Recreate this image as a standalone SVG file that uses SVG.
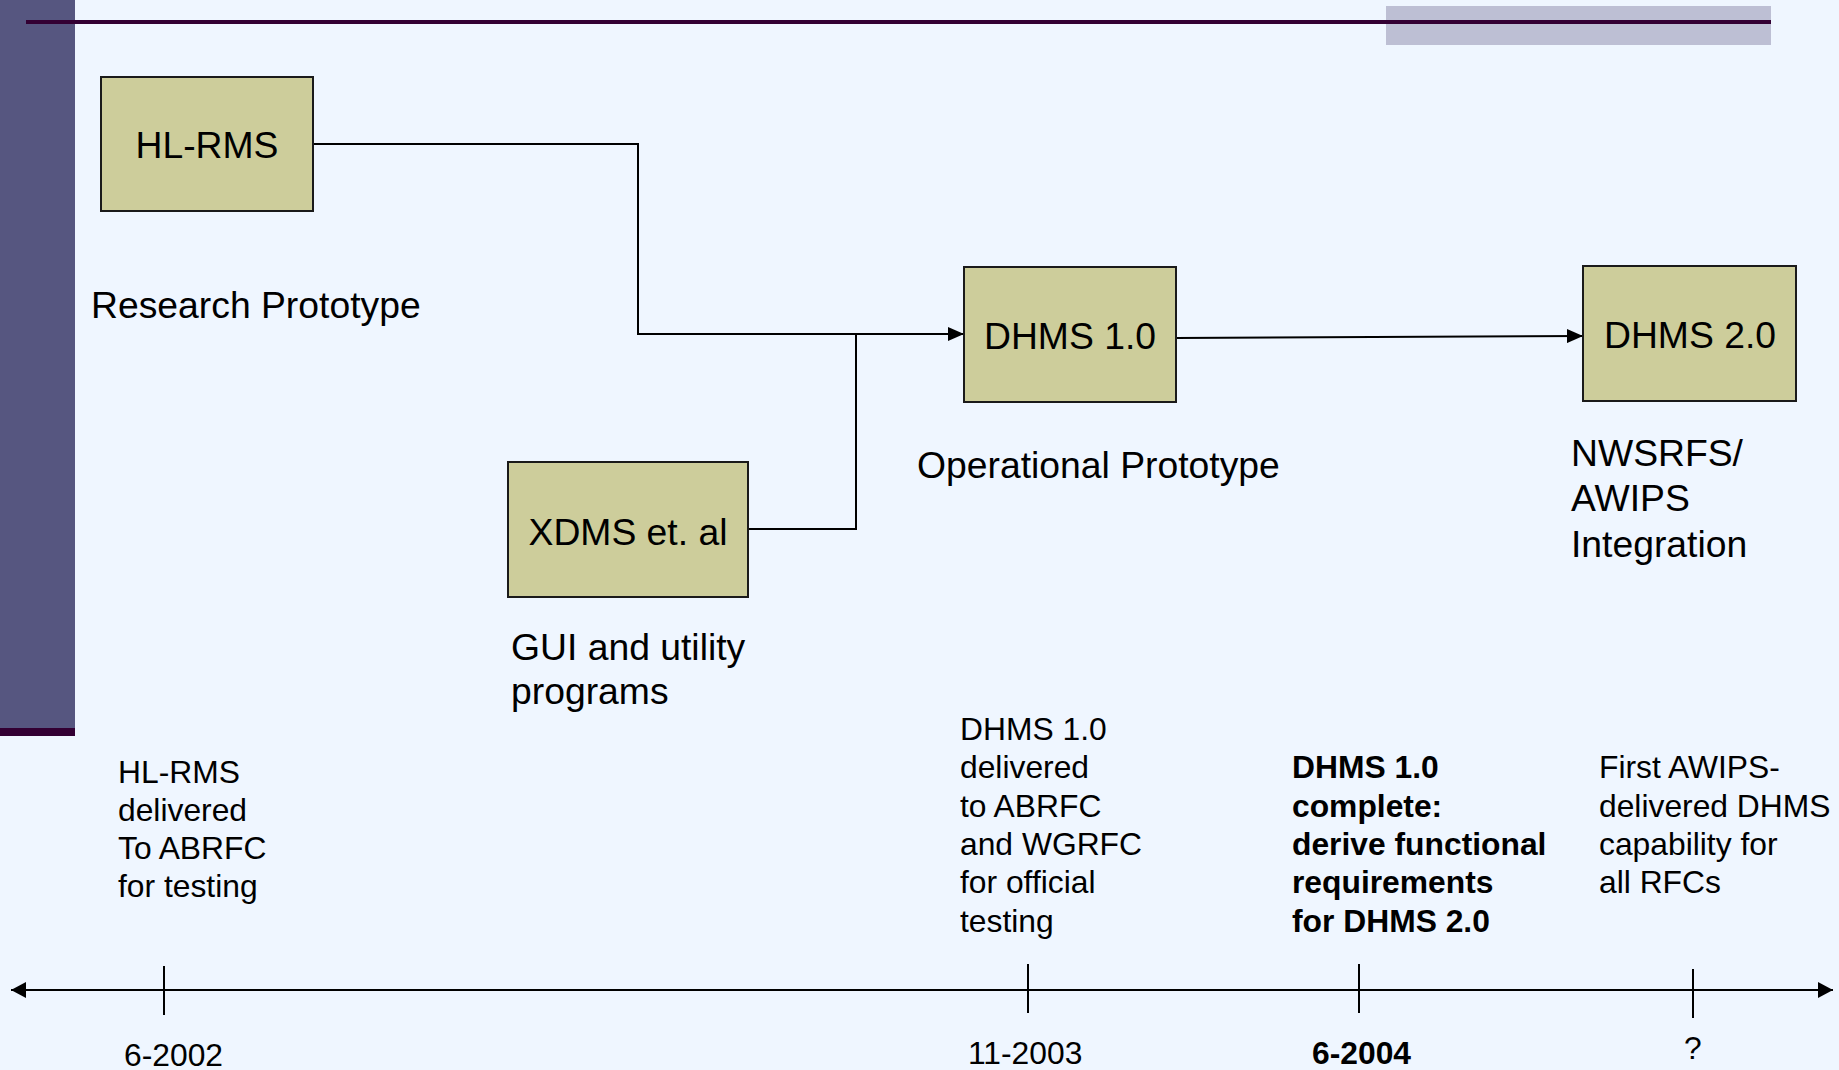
<svg xmlns="http://www.w3.org/2000/svg" width="1839" height="1070" viewBox="0 0 1839 1070">
<style>
text{font-family:"Liberation Sans",Arial,sans-serif;fill:#000}
.big{font-size:37.3px}
.sm{font-size:31.8px}
.b{font-weight:bold}
.box{fill:#cdcd9b;stroke:#1a1a1a;stroke-width:2}
.con{fill:none;stroke:#000;stroke-width:2}
</style>
<defs>
<marker id="arr" markerUnits="userSpaceOnUse" viewBox="0 0 16 14" refX="16" refY="7" markerWidth="16" markerHeight="14" orient="auto-start-reverse">
<path d="M0,0 L16,7 L0,14 z" fill="#000"/>
</marker>
<marker id="arrT" markerUnits="userSpaceOnUse" viewBox="0 0 15 16" refX="15" refY="8" markerWidth="15" markerHeight="16" orient="auto-start-reverse">
<path d="M0,0 L15,8 L0,16 z" fill="#000"/>
</marker>
</defs>
<rect width="1839" height="1070" fill="#eff6ff"/>
<g id="decor">
<rect x="0" y="0" width="75" height="729" fill="#565680"/>
<rect x="0" y="728" width="75" height="8" fill="#330033"/>
<rect x="1386" y="6" width="385" height="39" fill="#bdbfd4"/>
<rect x="26" y="20" width="1745" height="4" fill="#330033"/>
</g>
<g id="connectors">
<path class="con" d="M313,144 H638 V334 H964" marker-end="url(#arr)"/>
<path class="con" d="M748,529 H856 V334"/>
<path class="con" d="M1176,338 L1583,336" marker-end="url(#arr)"/>
<path class="con" d="M11,990 H1833" marker-start="url(#arrT)" marker-end="url(#arrT)" stroke-width="2.5"/>
<path class="con" d="M164,966 V1015 M1028,964 V1013 M1359,964 V1013 M1693,969 V1018"/>
</g>
<g id="hlrms">
<rect class="box" x="101" y="77" width="212" height="134"/>
<text class="big" x="207" y="158" text-anchor="middle">HL-RMS</text>
</g>
<g id="xdms">
<rect class="box" x="508" y="462" width="240" height="135"/>
<text class="big" x="628" y="545" text-anchor="middle">XDMS et. al</text>
</g>
<g id="dhms1">
<rect class="box" x="964" y="267" width="212" height="135"/>
<text class="big" x="1070" y="349" text-anchor="middle">DHMS 1.0</text>
</g>
<g id="dhms2">
<rect class="box" x="1583" y="266" width="213" height="135"/>
<text class="big" x="1690" y="348" text-anchor="middle">DHMS 2.0</text>
</g>
<g id="phase-labels">
<text class="big" x="91" y="318">Research Prototype</text>
<text class="big" x="917" y="478">Operational Prototype</text>
<text class="big" x="511"><tspan x="511" y="660">GUI and utility</tspan><tspan x="511" y="704">programs</tspan></text>
<text class="big" x="1571"><tspan x="1571" y="466">NWSRFS/</tspan><tspan x="1571" y="511">AWIPS</tspan><tspan x="1571" y="557">Integration</tspan></text>
</g>
<g id="milestones">
<text class="sm"><tspan x="118" y="783">HL-RMS</tspan><tspan x="118" y="821">delivered</tspan><tspan x="118" y="859">To ABRFC</tspan><tspan x="118" y="897">for testing</tspan></text>
<text class="sm"><tspan x="960" y="740">DHMS 1.0</tspan><tspan x="960" y="778">delivered</tspan><tspan x="960" y="817">to ABRFC</tspan><tspan x="960" y="855">and WGRFC</tspan><tspan x="960" y="893">for official</tspan><tspan x="960" y="932">testing</tspan></text>
<text class="sm b"><tspan x="1292" y="778">DHMS 1.0</tspan><tspan x="1292" y="817">complete:</tspan><tspan x="1292" y="855">derive functional</tspan><tspan x="1292" y="893">requirements</tspan><tspan x="1292" y="932">for DHMS 2.0</tspan></text>
<text class="sm"><tspan x="1599" y="778">First AWIPS-</tspan><tspan x="1599" y="817">delivered DHMS</tspan><tspan x="1599" y="855">capability for</tspan><tspan x="1599" y="893">all RFCs</tspan></text>
</g>
<g id="dates">
<text class="sm" x="124" y="1066">6-2002</text>
<text class="sm" x="968" y="1064">11-2003</text>
<text class="sm b" x="1312" y="1064">6-2004</text>
<text class="sm" x="1684" y="1059">?</text>
</g>
</svg>
